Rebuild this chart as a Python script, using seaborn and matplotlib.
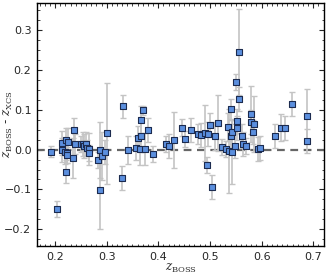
import numpy as np
import pandas as pd
import matplotlib
matplotlib.use("Agg")
import matplotlib.pyplot as plt
import seaborn as sns
from matplotlib.ticker import MultipleLocator

# redshift values
z_boss = [0.193, 0.2045, 0.213, 0.214, 0.219, 0.221, 0.221, 0.225, 0.223, 0.224,
          0.234, 0.236, 0.238, 0.250, 0.254, 0.257, 0.260, 0.261, 0.266, 0.265,
          0.283, 0.287, 0.288, 0.291, 0.296, 0.301,
          0.329, 0.331, 0.3405, 0.356, 0.3606, 0.365, 0.3665, 0.3665, 0.370, 0.374,
          0.381, 0.389, 0.414, 0.4215, 0.430,
          0.446, 0.4526, 0.464, 0.477, 0.483, 0.490, 0.4947, 0.496, 0.5005, 0.5044,
          0.510, 0.5148, 0.524, 0.5316, 0.5355, 0.537, 0.540, 0.5408, 0.5426, 0.5426,
          0.548, 0.5497, 0.5517, 0.553, 0.556, 0.5563, 0.5615, 0.564, 0.5705, 0.5795,
          0.5789, 0.5834, 0.5854, 0.593, 0.5964,
          0.6255, 0.637, 0.646, 0.659, 0.687, 0.687]
dz = [-0.005, -0.149, 0.016, -0.002, -0.005, 0.023, -0.055, 0.018, -0.008, -0.013,
      -0.022, 0.049, 0.015, 0.013, 0.015, 0.008, 0.013, 0.005, 0.002, -0.009,
      -0.026, -0.102, -0.002, -0.016, -0.005, 0.041,
      -0.072, 0.108, -0.001, 0.005, 0.028, 0.001, 0.074, 0.034, 0.098, 0.002,
      0.048, -0.011, 0.014, 0.008, 0.025,
      0.055, 0.027, 0.048, 0.039, 0.037, 0.042, -0.039, 0.038, 0.062, -0.093,
      0.033, 0.066, 0.006, 0.001, 0.057, -0.003, 0.101, 0.034, 0.044, -0.007,
      0.009, 0.169, 0.072, 0.054, 0.244, 0.127, 0.033, 0.015, 0.010, 0.089,
      0.069, 0.043, 0.064, 0.002, 0.005,
      0.033, 0.055, 0.054, 0.115, 0.083, 0.022]
dz_err = [0.014, 0.020, 0.030, 0.030, 0.030, 0.030, 0.028, 0.035, 0.025, 0.020,
          0.050, 0.030, 0.025, 0.020, 0.030, 0.030, 0.030, 0.020, 0.040, 0.020,
          0.020, 0.098, 0.070, 0.060, 0.030, 0.127,
          0.030, 0.029, 0.036, 0.030, 0.030, 0.040, 0.035, 0.040, 0.012, 0.040,
          0.030, 0.020, 0.020, 0.030, 0.070,
          0.022, 0.020, 0.030, 0.025, 0.030, 0.070, 0.020, 0.030, 0.030, 0.030,
          0.035, 0.070, 0.020, 0.020, 0.035, 0.105, 0.025, 0.030, 0.030, 0.080,
          0.030, 0.020, 0.030, 0.030, 0.108, 0.030, 0.030, 0.030, 0.020, 0.070,
          0.030, 0.030, 0.070, 0.030, 0.030,
          0.030, 0.033, 0.030, 0.030, 0.070, 0.030]

df = pd.DataFrame({"z_boss": z_boss, "dz": dz, "err": dz_err})

sns.set_style("ticks")
plt.rcParams["font.family"] = ["Liberation Sans Narrow", "DejaVu Sans"]
plt.rcParams["mathtext.fontset"] = "dejavuserif"

fig = plt.figure(figsize=(3.3, 2.75), dpi=100)
ax = fig.add_axes([0.112, 0.105, 0.870, 0.885])

ax.axhline(0, color="#666666", lw=1.6, ls=(0, (3.5, 2.5)), zorder=1)
ax.errorbar(df["z_boss"], df["dz"], yerr=df["err"], fmt="none",
            ecolor="#c4c4c4", elinewidth=1.2, capsize=2.2, capthick=1, zorder=2)
sns.scatterplot(data=df, x="z_boss", y="dz", marker="s", s=20,
                color="#5b8fde", edgecolor="#1c2b4f", linewidth=0.8,
                ax=ax, zorder=3)

ax.set_xlim(0.165, 0.721)
ax.set_ylim(-0.242, 0.368)
ax.xaxis.set_major_locator(MultipleLocator(0.1))
ax.xaxis.set_minor_locator(MultipleLocator(0.01))
ax.yaxis.set_major_locator(MultipleLocator(0.1))
ax.yaxis.set_minor_locator(MultipleLocator(0.025))
ax.tick_params(which="both", direction="in", top=True, right=True, labelsize=8)
ax.tick_params(which="major", length=3.5, width=0.8, pad=4)
ax.tick_params(which="minor", length=1.8, width=0.6)
for s in ax.spines.values():
    s.set_linewidth(1.0)
    s.set_color("black")

ax.set_xlabel(r"$z_{\rm BOSS}$", fontsize=8.5)
ax.set_ylabel(r"$z_{\rm BOSS}$ - $z_{\rm XCS}$", fontsize=8.5)
ax.xaxis.set_label_coords(0.5, -0.066)
ax.yaxis.set_label_coords(-0.075, 0.5)

fig.savefig("out.png", dpi=100)
